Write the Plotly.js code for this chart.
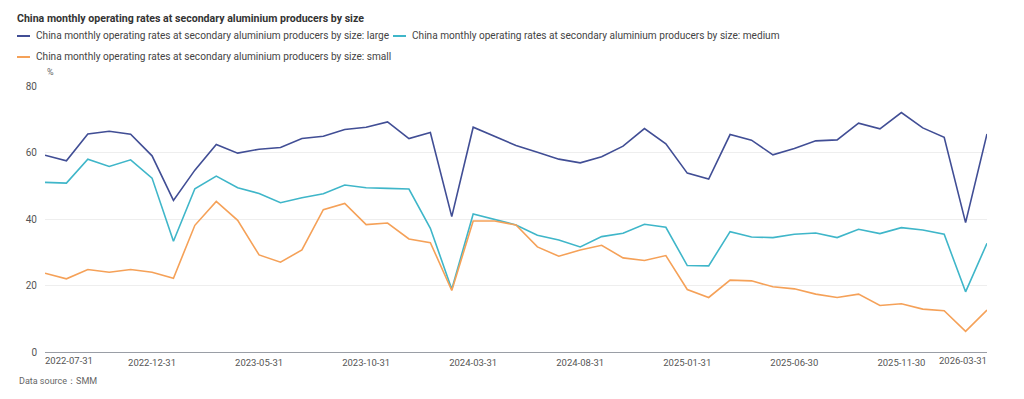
<!DOCTYPE html>
<html>
<head>
<meta charset="utf-8">
<script src="https://cdn.plot.ly/plotly-3.0.1.min.js"></script>
<style>html,body{margin:0;padding:0;background:#fff;}#chart{width:1024px;height:399px;}</style>
</head>
<body>
<div id="chart"></div>
<script>
const dates = [
  "2022-07-31","2022-08-31","2022-09-30","2022-10-31","2022-11-30","2022-12-31",
  "2023-01-31","2023-02-28","2023-03-31","2023-04-30","2023-05-31","2023-06-30",
  "2023-07-31","2023-08-31","2023-09-30","2023-10-31","2023-11-30","2023-12-31",
  "2024-01-31","2024-02-29","2024-03-31","2024-04-30","2024-05-31","2024-06-30",
  "2024-07-31","2024-08-31","2024-09-30","2024-10-31","2024-11-30","2024-12-31",
  "2025-01-31","2025-02-28","2025-03-31","2025-04-30","2025-05-31","2025-06-30",
  "2025-07-31","2025-08-31","2025-09-30","2025-10-31","2025-11-30","2025-12-31",
  "2026-01-31","2026-02-28","2026-03-31"
];
const large = [
  59.2,57.5,65.6,66.4,65.5,59.0,45.6,54.7,62.4,59.8,61.0,61.5,64.2,64.9,66.9,
  67.6,69.2,64.2,66.0,40.7,67.6,64.8,62.1,60.1,58.0,56.9,58.7,61.9,67.2,62.6,
  53.8,52.0,65.4,63.7,59.3,61.2,63.5,63.8,68.8,67.1,72.0,67.4,64.6,38.9,65.6
];
const medium = [
  51.0,50.8,58.0,55.8,57.8,52.3,33.3,49.1,52.9,49.4,47.7,44.9,46.4,47.6,50.2,
  49.4,49.2,49.0,37.2,18.9,41.5,39.8,38.2,35.1,33.7,31.6,34.7,35.7,38.4,37.5,
  26.0,25.9,36.2,34.6,34.4,35.4,35.8,34.4,36.9,35.6,37.4,36.7,35.4,18.1,32.7
];
const small = [
  23.7,22.0,24.8,24.0,24.8,24.0,22.2,38.1,45.3,39.6,29.2,27.0,30.7,42.8,44.7,
  38.3,38.8,34.0,32.9,18.5,39.4,39.4,38.2,31.6,28.8,30.7,32.1,28.3,27.5,29.0,
  18.8,16.4,21.6,21.4,19.6,19.0,17.4,16.4,17.4,14.0,14.5,12.9,12.4,6.2,12.6
];
const seriesNames = [
  "China monthly operating rates at secondary aluminium producers by size: large",
  "China monthly operating rates at secondary aluminium producers by size: medium",
  "China monthly operating rates at secondary aluminium producers by size: small"
];
const midTicks = ["2022-12-31","2023-05-31","2023-10-31","2024-03-31","2024-08-31","2025-01-31","2025-06-30","2025-11-30"];
const firstTick = "2022-07-31";
const lastTick = "2026-03-31";
const yTicks = [0,20,40,60,80];

const font = "Roboto, Noto Sans, sans-serif";
const colors = ["#414e95","#3fb6c9","#f5a158"];
const traces = [large, medium, small].map((vals, i) => ({
  type: "scatter", mode: "lines", x: dates, y: vals, name: seriesNames[i],
  line: {color: colors[i], width: 1.6}, hoverinfo: "x+y", showlegend: false
}));

// plot-area geometry (pixels) for converting custom legend positions to paper coordinates
const L = 45, R = 987, T = 86, B = 352;
const px = v => (v - L) / (R - L);
const py = v => (B - v) / (B - T);

// custom legend: entry positions [lineX0, textX, centerY]
const legendPos = [[17, 34, 36], [393, 410, 36], [17, 34, 57]];
const shapes = legendPos.map((p, i) => ({
  type: "line", xref: "paper", yref: "paper", x0: px(p[0]), x1: px(p[0] + 13), y0: py(p[2]), y1: py(p[2]),
  line: {color: colors[i], width: 2}
}));
const legendTexts = legendPos.map((p, i) => ({
  text: seriesNames[i], xref: "paper", yref: "paper", x: px(p[1]), y: py(p[2]), xanchor: "left", yanchor: "middle",
  showarrow: false, font: {family: font, size: 10.1, color: "#444"}
}));

const layout = {
  width: 1024, height: 399,
  margin: {l: L, r: 1024 - R, t: T, b: 399 - B},
  paper_bgcolor: "#fff", plot_bgcolor: "#fff",
  font: {family: font, size: 11, color: "#333"},
  title: {text: "<b>China monthly operating rates at secondary aluminium producers by size</b>",
    x: 17/1024, xanchor: "left", xref: "container", y: 1 - 18/399, yanchor: "middle", yref: "container",
    font: {family: font, size: 10.6, color: "#333"}},
  showlegend: false,
  xaxis: {type: "category", range: [0, dates.length - 1], tickmode: "array", tickvals: midTicks, ticktext: midTicks,
    showgrid: false, zeroline: false, showline: true, linecolor: "#9a9ea6", linewidth: 1,
    ticks: "outside", ticklen: 2, tickcolor: "rgba(0,0,0,0)", tickangle: 0,
    tickfont: {family: font, size: 9.5, color: "#555"}, fixedrange: true},
  yaxis: {range: [0, 80], tickvals: yTicks, showgrid: true, gridcolor: "#eeeeee", gridwidth: 1,
    zeroline: false, showline: false, ticks: "outside", ticklen: 5, tickcolor: "rgba(0,0,0,0)",
    tickfont: {family: font, size: 10, color: "#555"}, fixedrange: true},
  shapes: shapes,
  annotations: legendTexts.concat([
    {text: "%", xref: "paper", yref: "paper", x: 0, y: py(72), xanchor: "left", yanchor: "middle",
      showarrow: false, font: {family: font, size: 9, color: "#666"}},
    {text: firstTick, xref: "x", yref: "paper", x: firstTick, y: 0, xanchor: "left", yanchor: "top", yshift: -1, xshift: -2,
      showarrow: false, font: {family: font, size: 9.5, color: "#555"}},
    {text: lastTick, xref: "x", yref: "paper", x: lastTick, y: 0, xanchor: "right", yanchor: "top", yshift: -1, xshift: 2,
      showarrow: false, font: {family: font, size: 9.5, color: "#555"}},
    {text: "Data source：SMM", xref: "paper", yref: "paper", x: px(17), y: py(381), xanchor: "left", yanchor: "middle",
      showarrow: false, font: {family: font, size: 9, color: "#666"}}
  ])
};
Plotly.newPlot("chart", traces, layout, {displayModeBar: false});
</script>
</body>
</html>
